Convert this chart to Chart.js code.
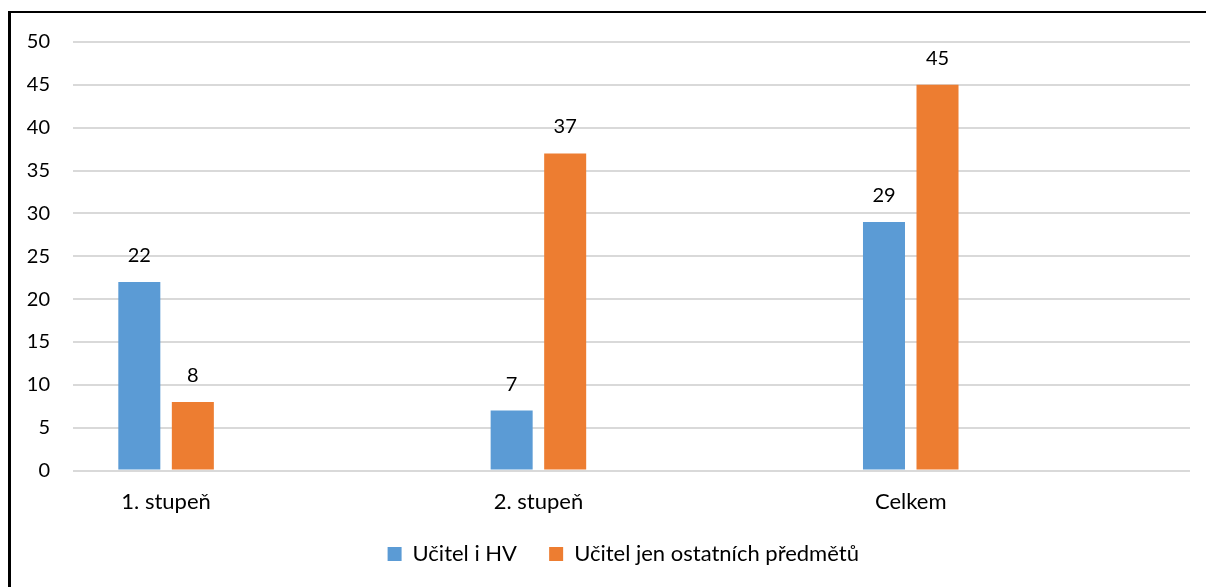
<!DOCTYPE html>
<html>
<head>
<meta charset="utf-8">
<script src="https://cdn.jsdelivr.net/npm/chart.js@4.4.1/dist/chart.umd.min.js"></script>
<style>
  html, body { margin: 0; padding: 0; background: #fff; }
  #frame {
    position: absolute; left: 8px; top: 11px; width: 1300px; height: 700px;
    border-left: 3px solid #000; border-top: 2px solid #000;
  }
  #wrap { position: absolute; left: 0; top: 0; width: 1206px; height: 587px; }
</style>
</head>
<body>
<div id="frame"></div>
<div id="wrap"><canvas id="graf"></canvas></div>
<script>
// data
var kategorie = ["1. stupeň", "2. stupeň", "Celkem"];
var ucitelHV = [22, 7, 29];
var ucitelOstatni = [8, 37, 45];
var nazvySerii = ["Učitel i HV", "Učitel jen ostatních předmětů"];
var yTicks = [0, 5, 10, 15, 20, 25, 30, 35, 40, 45, 50];

// kazda kategorie ma za sebou prazdny slot (skupiny sloupcu jsou v leve casti)
var labels = [];
var d1 = [];
var d2 = [];
kategorie.forEach((k, i) => {
    labels.push(k, "");
    d1.push(ucitelHV[i], null);
    d2.push(ucitelOstatni[i], null);
});

var pismo = "Lato, 'Liberation Sans', sans-serif";

//hodnoty nad sloupci
var popisky = {
    id: "popisky",
    afterDatasetsDraw(chart) {
        var ctx = chart.ctx;
        ctx.save();
        ctx.font = "20px " + pismo;
        ctx.fillStyle = "#000";
        ctx.textAlign = "center";
        ctx.textBaseline = "alphabetic";
        chart.data.datasets.forEach((ds, i) => {
            chart.getDatasetMeta(i).data.forEach((bar, j) => {
                if (ds.data[j] == null) return;
                ctx.fillText(ds.data[j], bar.x, bar.y - 20);
            });
        });
        ctx.restore();
    }
};

var canvas = document.getElementById("graf");
var myChart = new Chart(canvas, {
    type: "bar",
    data: {
        labels: labels,
        datasets: [{
            label: nazvySerii[0],
            data: d1,
            backgroundColor: "#5B9BD5"
        }, {
            label: nazvySerii[1],
            data: d2,
            backgroundColor: "#ED7D31"
        }]
    },
    options: {
        responsive: true,
        maintainAspectRatio: false,
        animation: false,
        layout: { padding: { left: 0, right: 16, top: 42, bottom: 12 } },
        datasets: { bar: { categoryPercentage: 0.575, barPercentage: 0.785 } },
        scales: {
            x: {
                grid: { display: false, drawTicks: false },
                border: { display: false },
                ticks: {
                    color: "#000",
                    font: { family: pismo, size: 22 },
                    padding: 18,
                    maxRotation: 0,
                    autoSkip: false
                }
            },
            y: {
                min: 0,
                max: 50,
                afterBuildTicks: axis => { axis.ticks = yTicks.map(v => ({ value: v })); },
                afterFit: axis => { axis.width = 73; },
                grid: { color: "#D9D9D9", lineWidth: 2, drawTicks: false },
                border: { display: false },
                ticks: {
                    color: "#000",
                    font: { family: pismo, size: 20 },
                    padding: 23
                }
            }
        },
        plugins: {
            legend: {
                position: "bottom",
                fullSize: false,
                labels: {
                    color: "#000",
                    font: { family: pismo, size: 22 },
                    boxWidth: 14,
                    boxHeight: 14,
                    padding: 10,
                    // vetsi mezera mezi polozkami legendy (a posun legendy trochu doleva)
                    generateLabels: chart => {
                        var items = Chart.defaults.plugins.legend.labels.generateLabels(chart);
                        items.forEach((it, i) => {
                            it.text = it.text + (i < items.length - 1 ? "\u2003 " : "\u2003");
                        });
                        return items;
                    }
                }
            },
            tooltip: { enabled: false }
        }
    },
    plugins: [popisky]
});
</script>
</body>
</html>
